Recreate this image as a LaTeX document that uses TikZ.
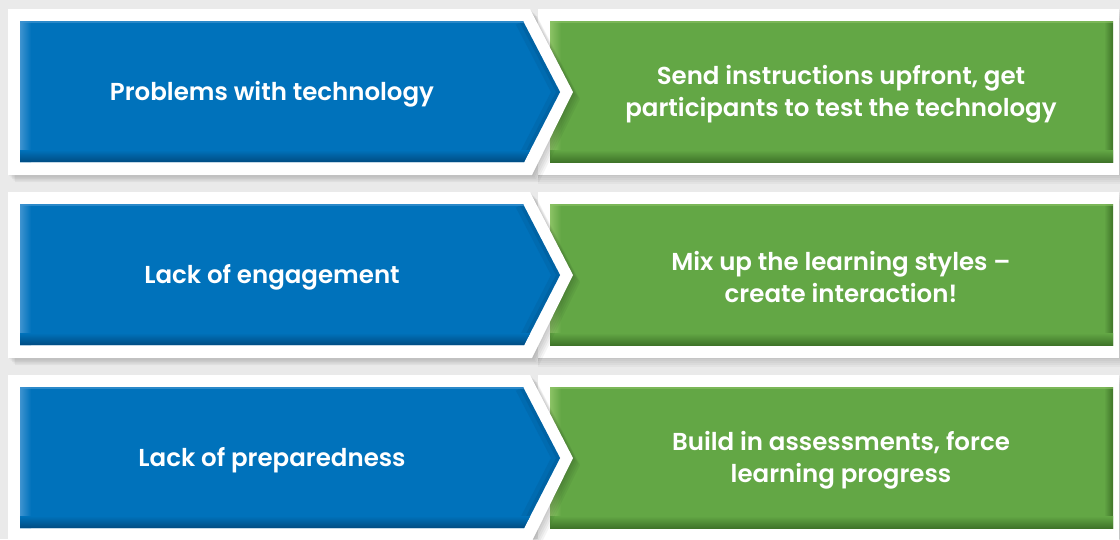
\documentclass[tikz,border=0pt]{standalone}
\usepackage{fontspec}
\setmainfont{Poppins}[UprightFont={* SemiBold}]
\definecolor{bgC}{HTML}{EAEAEA}
\definecolor{blueC}{HTML}{0072BB}
\definecolor{blueD}{HTML}{004C82}
\definecolor{blueL}{HTML}{3E93D0}
\definecolor{greenC}{HTML}{63A745}
\definecolor{greenD}{HTML}{3F7429}
\definecolor{greenL}{HTML}{8BC265}
\tikzset{
  whiteframe/.style={fill=white},
  shadowlayer/.style={fill=black,opacity=0.03},
  lbl/.style={text=white,font=\fontsize{24.5}{32}\selectfont,align=center,inner sep=0pt},
}
\begin{document}
\begin{tikzpicture}[x=1pt,y=-1pt]
\useasboundingbox (0,0) rectangle (1120,539);
\fill[bgC] (0,0) rectangle (1120,539);
\foreach \dy/\ta/\tb/\n in {0/{Problems with technology}/{Send instructions upfront, get\\participants to test the technology}/1,
  183/{Lack of engagement}/{Mix up the learning styles --\\create interaction!}/2,
  366/{Lack of preparedness}/{Build in assessments, force\\learning progress}/3}{
\begin{scope}[shift={(0,\dy)}]
  % shadow of right white frame
  \foreach \o in {1,3,5,7,9}{
    \fill[shadowlayer] (538,9+\o) rectangle (1120,175+\o);
  }
  \fill[whiteframe] (538,9) rectangle (1119,175);
  % green box
  \fill[greenC] (550,21) rectangle (1113,162);
  \begin{scope}
    \clip (550,21) rectangle (1113,162);
    \shade[left color=greenL,right color=greenC] (550,21) rectangle (561,162);
    \shade[left color=greenC,right color=greenD] (1104,21) rectangle (1113,162);
    \shade[top color=greenC,bottom color=greenD] (550,150) rectangle (1113,162);
    \fill[greenL,opacity=0.6] (550,21) rectangle (1113,22.5);
  \end{scope}
  % shadow of chevron frame
  \foreach \o in {1,2.5,4,5.5,7}{
    \fill[shadowlayer,opacity=0.045] (8+\o,9+\o) -- (530+\o,9+\o) -- (573+\o,92+\o) -- (532+\o,175+\o) -- (8+\o,175+\o) -- cycle;
  }
  \fill[whiteframe] (8,9) -- (530,9) -- (573,92) -- (532,175) -- (8,175) -- cycle;
  % blue chevron
  \fill[blueC] (20,21) -- (523,21) -- (560,92) -- (524,162) -- (20,162) -- cycle;
  \begin{scope}
    \clip (20,21) -- (523,21) -- (560,92) -- (524,162) -- (20,162) -- cycle;
    \shade[left color=blueL,right color=blueC] (20,21) rectangle (31,162);
    \draw[blueD,opacity=0.18,line width=16pt] (523,21) -- (560,92) -- (524,162);
    \draw[blueD,opacity=0.25,line width=7pt] (523,21) -- (560,92) -- (524,162);
    \shade[top color=blueC,bottom color=blueD] (20,150) rectangle (570,162);
    \fill[blueL,opacity=0.7] (20,21) rectangle (560,22.5);
  \end{scope}
  \node[lbl] (p\n) at (272,94) {\ta};
  \node[lbl] (s\n) at (841,94) {\tb};
\end{scope}
}
\end{tikzpicture}
\end{document}
